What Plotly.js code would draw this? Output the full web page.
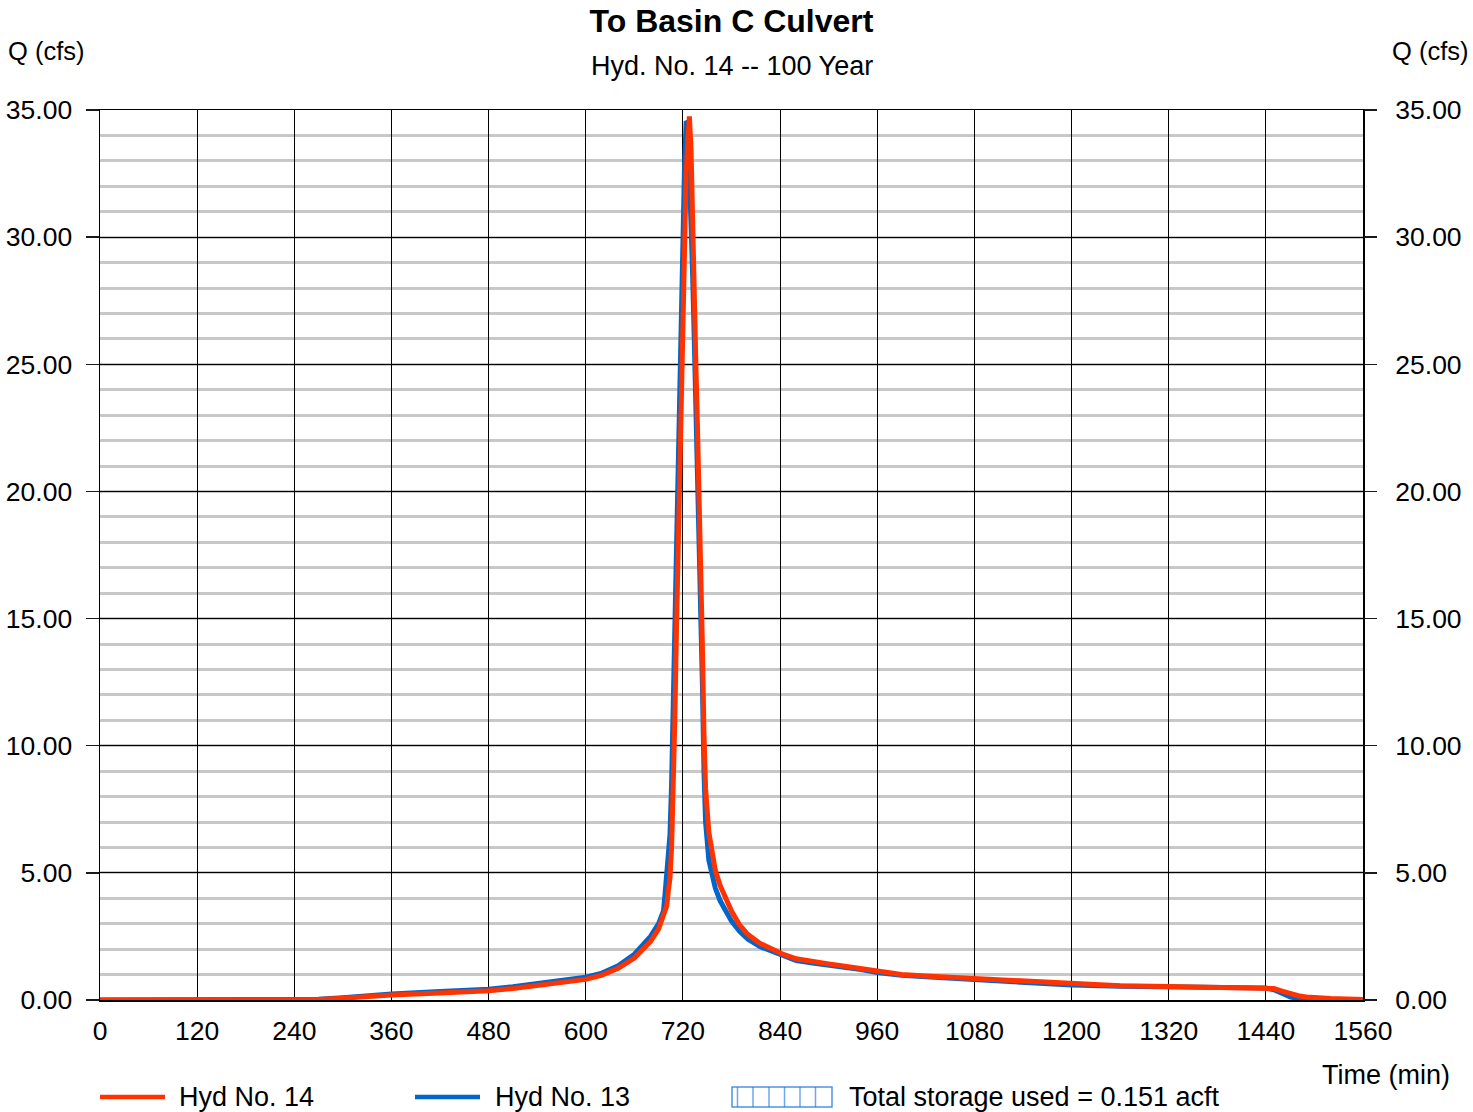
<!DOCTYPE html>
<html>
<head>
<meta charset="utf-8">
<script src="https://cdn.plot.ly/plotly-3.0.1.min.js"></script>
<style>
  html, body { margin: 0; padding: 0; background: #fff; }
  #chart { width: 1473px; height: 1112px; }
</style>
</head>
<body>
<div id="chart"></div>
<script>
// ---- data ----
const timeMin = [0, 240, 270, 300, 360, 420, 480, 510, 540, 555, 570, 600, 620, 640, 660, 680, 690, 696, 698, 700, 702, 704, 706, 708, 710, 712, 714, 716, 718, 720, 722, 724, 726, 728, 730, 732, 734, 736, 738, 740, 742, 744, 746, 748, 752, 756, 760, 766, 772, 780, 790, 800, 815, 830, 845, 860, 880, 900, 920, 940, 960, 990, 1020, 1080, 1140, 1200, 1260, 1320, 1380, 1440, 1450, 1460, 1470, 1480, 1490, 1500, 1520, 1540, 1560];

const hyd14 = [0, 0, 0.02, 0.07, 0.2, 0.28, 0.36, 0.45, 0.58, 0.66, 0.70, 0.81, 0.98, 1.25, 1.65, 2.3, 2.8, 3.3, 3.5, 3.7, 4.3, 4.8, 6.0, 8.0, 11.0, 14.5, 17.5, 21.0, 25.5, 28.0, 30.5, 32.5, 33.8, 34.75, 33.5, 30.0, 27.5, 25.0, 22.5, 20.0, 17.0, 14.0, 10.5, 8.3, 6.6, 5.8, 5.1, 4.5, 4.05, 3.5, 2.95, 2.58, 2.23, 1.98, 1.78, 1.62, 1.5, 1.42, 1.33, 1.24, 1.12, 1.0, 0.94, 0.84, 0.72, 0.62, 0.56, 0.53, 0.51, 0.49, 0.45, 0.35, 0.25, 0.17, 0.12, 0.09, 0.06, 0.04, 0.02];

const hyd13 = [0, 0, 0.03, 0.09, 0.24, 0.33, 0.42, 0.52, 0.65, 0.73, 0.77, 0.9, 1.06, 1.35, 1.8, 2.5, 3.0, 3.5, 4.2, 5.0, 5.6, 6.5, 8.5, 11.5, 14.5, 17.5, 21.0, 25.0, 28.0, 30.5, 32.8, 34.55, 34.5, 32.5, 31.0, 28.5, 26.0, 23.5, 21.0, 18.5, 15.5, 12.5, 9.0, 7.0, 5.5, 4.9, 4.4, 3.9, 3.55, 3.1, 2.7, 2.4, 2.1, 1.9, 1.72, 1.55, 1.45, 1.38, 1.3, 1.2, 1.08, 0.97, 0.91, 0.81, 0.69, 0.59, 0.54, 0.51, 0.49, 0.47, 0.4, 0.25, 0.12, 0.05, 0.02, 0, 0, 0, 0];

const xTicks = [0, 120, 240, 360, 480, 600, 720, 840, 960, 1080, 1200, 1320, 1440, 1560];
const yTicks = [0, 5, 10, 15, 20, 25, 30, 35];

const titleText = "To Basin C Culvert";
const subtitleText = "Hyd. No. 14 -- 100 Year";
const yTitleText = "Q (cfs)";
const xTitleText = "Time (min)";
const legendLabels = ["Hyd No. 14", "Hyd No. 13", "Total storage used = 0.151 acft"];

// ---- styling ----
const FONT = "Liberation Sans, Arial, sans-serif";
const RED = "#ff3300";
const BLUE = "#0066cc";
const W = 1473, H = 1112;
const M = {l: 100, r: 110, t: 110, b: 112};
const PW = W - M.l - M.r, PH = H - M.t - M.b;
const px = p => (p - M.l) / PW;           // page x px -> paper
const py = p => (H - M.b - p) / PH;       // page y px -> paper

const traces = [
  {x: timeMin, y: hyd13, type: "scatter", mode: "lines", name: legendLabels[1],
   line: {color: BLUE, width: 5}, showlegend: false, hoverinfo: "x+y"},
  {x: timeMin, y: hyd14, type: "scatter", mode: "lines", name: legendLabels[0],
   line: {color: RED, width: 5}, showlegend: false, hoverinfo: "x+y"},
  {x: [0], y: [0], yaxis: "y2", type: "scatter", mode: "markers",
   marker: {opacity: 0}, showlegend: false, hoverinfo: "skip"}
];

const tickFont = {family: FONT, size: 26.5, color: "#000"};
const textFont = {family: FONT, size: 27, color: "#000"};
const qFont = {family: FONT, size: 25.5, color: "#000"};

// custom legend
const shapes = [
  {type: "line", xref: "paper", yref: "paper", x0: px(100), x1: px(165), y0: py(1097), y1: py(1097),
   line: {color: RED, width: 4.5}},
  {type: "line", xref: "paper", yref: "paper", x0: px(415), x1: px(480), y0: py(1097), y1: py(1097),
   line: {color: BLUE, width: 4.5}},
  {type: "rect", xref: "paper", yref: "paper", x0: px(732), x1: px(832), y0: py(1107), y1: py(1087),
   line: {color: "rgba(30,120,220,0.8)", width: 1.5}, fillcolor: "rgba(0,0,0,0)"}
];
[737.5, 753, 769, 784.5, 800, 815.5].forEach(v => {
  shapes.push({type: "line", xref: "paper", yref: "paper", x0: px(v), x1: px(v), y0: py(1107), y1: py(1087),
    line: {color: "rgba(30,120,220,0.65)", width: 1.5}});
});

const annotations = [
  {text: subtitleText, xref: "paper", yref: "paper", x: 0.5, y: py(66), xanchor: "center", yanchor: "middle",
   showarrow: false, font: textFont},
  {text: yTitleText, xref: "paper", yref: "paper", x: px(6), y: py(51), xanchor: "left", yanchor: "middle",
   showarrow: false, font: qFont},
  {text: yTitleText, xref: "paper", yref: "paper", x: px(1471), y: py(51), xanchor: "right", yanchor: "middle",
   showarrow: false, font: qFont},
  {text: xTitleText, xref: "paper", yref: "paper", x: px(1452), y: py(1075), xanchor: "right", yanchor: "middle",
   showarrow: false, font: textFont},
  {text: legendLabels[0], xref: "paper", yref: "paper", x: px(177), y: py(1097), xanchor: "left", yanchor: "middle",
   showarrow: false, font: textFont},
  {text: legendLabels[1], xref: "paper", yref: "paper", x: px(493), y: py(1097), xanchor: "left", yanchor: "middle",
   showarrow: false, font: textFont},
  {text: legendLabels[2], xref: "paper", yref: "paper", x: px(847), y: py(1097), xanchor: "left", yanchor: "middle",
   showarrow: false, font: textFont}
];

const layout = {
  width: W, height: H,
  margin: M,
  paper_bgcolor: "#fff", plot_bgcolor: "#fff",
  showlegend: false,
  font: {family: FONT, color: "#000"},
  title: {text: "<b>" + titleText + "</b>", x: 0.5, xref: "paper", y: 1 - 21 / H, yref: "container",
          xanchor: "center", yanchor: "middle", font: {family: FONT, size: 32, color: "#000"}},
  xaxis: {
    range: [0, 1560], tickvals: xTicks, ticktext: xTicks.map(String),
    showgrid: true, gridcolor: "#000", gridwidth: 1,
    showline: true, linecolor: "#000", linewidth: 1.5, mirror: true,
    ticks: "", zeroline: false, tickfont: tickFont, ticklabelstandoff: 7, fixedrange: true
  },
  yaxis: {
    range: [0, 35], tickvals: yTicks, tickformat: ".2f",
    showgrid: true, gridcolor: "#000", gridwidth: 1,
    minor: {dtick: 1, showgrid: true, gridcolor: "#c8c8c8", gridwidth: 3},
    showline: true, linecolor: "#000", linewidth: 1.5, mirror: true,
    ticks: "outside", ticklen: 13, tickwidth: 1.5, tickcolor: "#1a1a1a",
    zeroline: false, tickfont: tickFont, ticklabelstandoff: 8, fixedrange: true
  },
  yaxis2: {
    range: [0, 35], tickvals: yTicks, tickformat: ".2f", overlaying: "y", side: "right",
    showgrid: false, showline: false, zeroline: false,
    ticks: "outside", ticklen: 13, tickwidth: 1.5, tickcolor: "#1a1a1a",
    tickfont: tickFont, ticklabelstandoff: 13, fixedrange: true
  },
  shapes: shapes,
  annotations: annotations
};

Plotly.newPlot("chart", traces, layout, {displayModeBar: false, staticPlot: true});
</script>
</body>
</html>
